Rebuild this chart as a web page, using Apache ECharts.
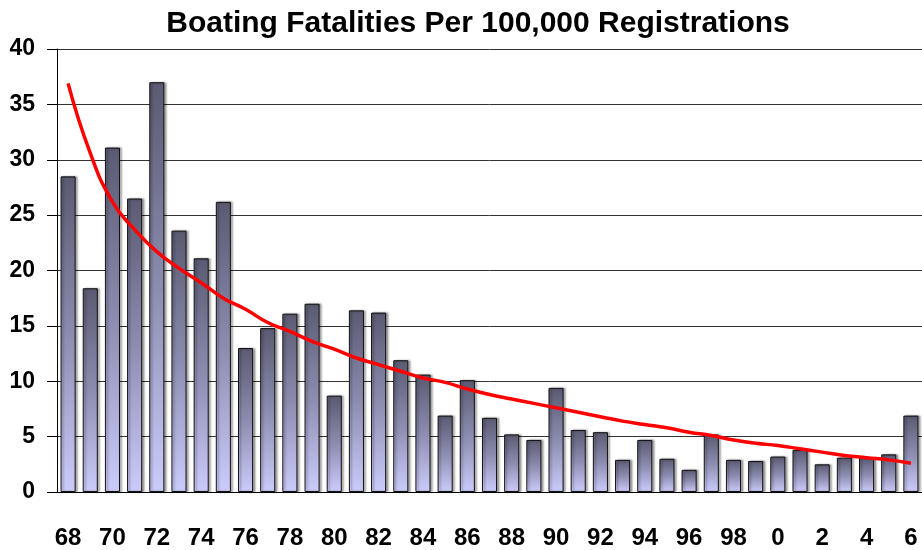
<!DOCTYPE html>
<html>
<head>
<meta charset="utf-8">
<script src="https://cdn.jsdelivr.net/npm/echarts@6/dist/echarts.min.js"></script>
<style>
  html, body { margin: 0; padding: 0; background: #fff; }
  #main { width: 922px; height: 550px; }
</style>
</head>
<body>
<div id="main"></div>
<script>
// years 1968 - 2006, labels as in the original (two digits, 2000s without leading zero)
var years = ['68','69','70','71','72','73','74','75','76','77','78','79','80','81','82','83','84','85','86','87','88','89','90','91','92','93','94','95','96','97','98','99','0','1','2','3','4','5','6'];
// fatalities per 100,000 registrations
var fatalities = [28.5, 18.4, 31.1, 26.5, 37.0, 23.6, 21.1, 26.2, 13.0, 14.8, 16.1, 17.0, 8.7, 16.4, 16.2, 11.9, 10.6, 6.9, 10.1, 6.7, 5.2, 4.7, 9.4, 5.6, 5.4, 2.9, 4.7, 3.0, 2.0, 5.2, 2.9, 2.8, 3.2, 3.8, 2.5, 3.1, 3.1, 3.4, 6.9];
// trend line
var trend = [36.9, 30.6, 26.2, 23.7, 21.7, 20.2, 18.9, 17.5, 16.5, 15.3, 14.5, 13.6, 12.9, 12.1, 11.5, 10.9, 10.3, 9.9, 9.3, 8.8, 8.4, 8.0, 7.6, 7.2, 6.8, 6.4, 6.1, 5.8, 5.4, 5.1, 4.7, 4.4, 4.2, 3.9, 3.6, 3.3, 3.1, 2.9, 2.6];

var myChart = echarts.init(document.getElementById('main'));
var labelFont = "'Liberation Sans Narrow', 'Arial Narrow', 'Liberation Sans', sans-serif";

var option = {
  animation: false,
  backgroundColor: '#fff',
  title: {
    text: 'Boating Fatalities Per 100,000 Registrations',
    left: 473,
    top: 4,
    textAlign: 'center',
    textStyle: {
      fontFamily: "'Liberation Sans', Arial, sans-serif",
      fontWeight: 'bold',
      fontSize: 30,
      color: '#000'
    }
  },
  grid: {
    left: 57,
    right: 0,
    top: 49,
    bottom: 57
  },
  xAxis: {
    type: 'category',
    data: years,
    axisLine: { lineStyle: { color: '#000', width: 1 } },
    axisTick: {
      interval: 0,
      length: 9,
      lineStyle: { color: '#000' }
    },
    axisLabel: {
      interval: 1,
      margin: 34,
      fontFamily: labelFont,
      fontWeight: 'bold',
      fontSize: 24,
      color: '#000'
    }
  },
  yAxis: {
    type: 'value',
    min: 0,
    max: 40,
    interval: 5,
    axisLine: { show: true, lineStyle: { color: '#000', width: 1 } },
    axisTick: { show: true, length: 10, lineStyle: { color: '#000' } },
    axisLabel: {
      margin: 22,
      fontFamily: labelFont,
      fontWeight: 'bold',
      fontSize: 23,
      color: '#000'
    },
    splitLine: {
      show: true,
      lineStyle: { color: '#333', width: 1 }
    }
  },
  series: [
    {
      name: 'Fatalities',
      type: 'bar',
      data: fatalities,
      barCategoryGap: '32%',
      itemStyle: {
        color: new echarts.graphic.LinearGradient(0, 0, 0, 1, [
          { offset: 0, color: '#5a5a72' },
          { offset: 0.5, color: '#8c8cb0' },
          { offset: 1, color: '#ccccfc' }
        ]),
        borderColor: '#111',
        borderWidth: 1,
        shadowColor: 'rgba(0,0,0,0.35)',
        shadowBlur: 2,
        shadowOffsetX: 2,
        shadowOffsetY: 0
      }
    },
    {
      name: 'Trend',
      type: 'line',
      data: trend,
      smooth: true,
      showSymbol: false,
      lineStyle: { color: '#ff0000', width: 3.5 },
      z: 5
    }
  ]
};
myChart.setOption(option);
</script>
</body>
</html>
